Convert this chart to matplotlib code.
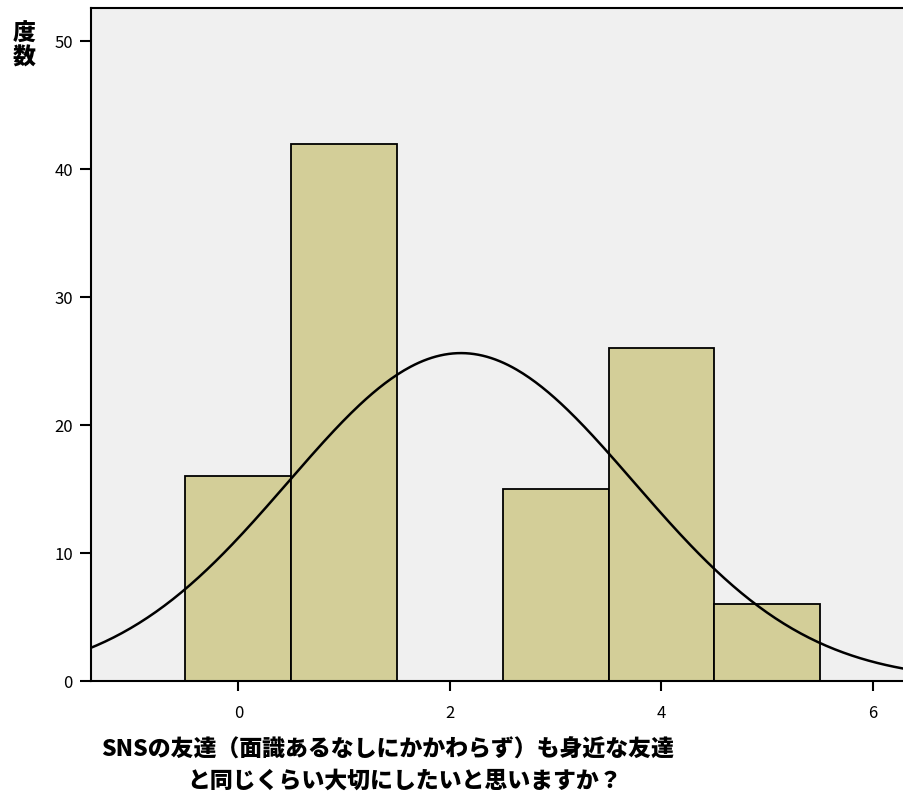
import numpy as np
import matplotlib.pyplot as plt

# histogram data (answer scale 0..5) and counts
values = [0, 1, 2, 3, 4, 5]
counts = [16, 42, 0, 15, 26, 6]
y_ticks = [0, 10, 20, 30, 40, 50]
x_ticks = [0, 2, 4, 6]
x_label_lines = ["SNSの友達（面識あるなしにかかわらず）も身近な友達",
                 "と同じくらい大切にしたいと思いますか？"]
y_label = "度\n数"

plt.rcParams['font.family'] = ['Noto Sans CJK JP', 'DejaVu Sans']

fig = plt.figure(figsize=(9.04, 8.01), dpi=100)
ax = fig.add_axes([91 / 904, 120 / 801, 1 - 91 / 904 + 0.002, 673 / 801])
ax.set_facecolor("#F0F0F0")

ax.bar(values, counts, width=1.0, color="#D3CE98", edgecolor="black", linewidth=1.3, zorder=2)

# normal curve fitted to the data, like SPSS does
v = np.array(values, dtype=float)
c = np.array(counts, dtype=float)
n = c.sum()
mean = (v * c).sum() / n
sd = np.sqrt((c * (v - mean) ** 2).sum() / (n - 1))
xs = np.linspace(-1.5, 6.5, 400)
ys = n * np.exp(-0.5 * ((xs - mean) / sd) ** 2) / (sd * np.sqrt(2 * np.pi))
ax.plot(xs, ys, color="black", linewidth=1.8, zorder=3)

ax.set_xlim(-1.393, 6.31)
ax.set_ylim(0, 52.6)
ax.set_xticks(x_ticks)
ax.set_yticks(y_ticks)
ax.tick_params(axis="both", direction="out", length=8, width=1.5, labelsize=12, pad=5)
ax.tick_params(axis="x", length=7, pad=10)
for s in ["left", "top", "bottom"]:
    ax.spines[s].set_linewidth(1.5)
ax.spines["right"].set_visible(False)

fig.text(388 / 904, 1 - 750 / 801, x_label_lines[0], ha="center", va="center",
         fontsize=16.5, fontweight="heavy")
fig.text(405 / 904, 1 - 781 / 801, x_label_lines[1], ha="center", va="center",
         fontsize=16.5, fontweight="heavy")
fig.text(24 / 904, 1 - 46 / 801, y_label, ha="center", va="center",
         fontsize=16.5, fontweight="heavy", linespacing=1.05)

fig.savefig("out.png", dpi=100)
